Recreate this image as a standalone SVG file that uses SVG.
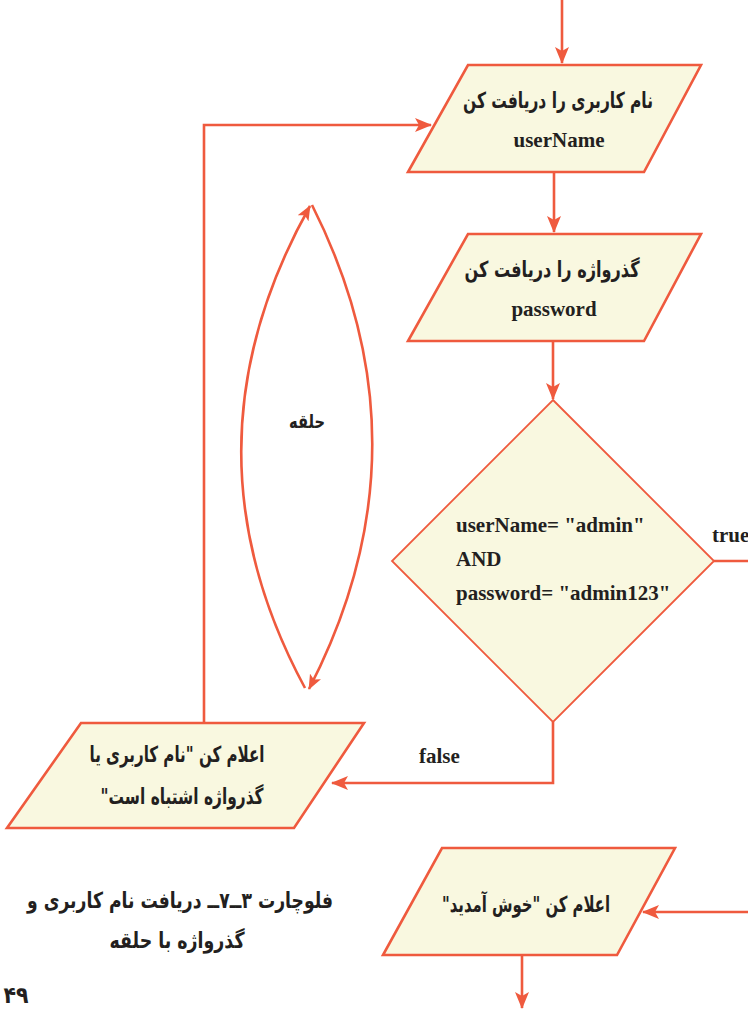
<svg xmlns="http://www.w3.org/2000/svg" width="748" height="1010" viewBox="0 0 748 1010">
<defs>
<marker id="ah" viewBox="0 0 17 14" refX="16" refY="7" markerWidth="17" markerHeight="14" markerUnits="userSpaceOnUse" orient="auto">
<path d="M0,0 L17,7 L0,14 L4,7 z" fill="#ef5a3e"/>
</marker>
<marker id="ahs" viewBox="0 0 17 14" refX="16" refY="7" markerWidth="15" markerHeight="13" markerUnits="userSpaceOnUse" orient="auto">
<path d="M0,0 L17,7 L0,14 L4,7 z" fill="#ef5a3e"/>
</marker>
</defs>
<style>
.box{fill:#f9f8e0;stroke:#ef5a3e;stroke-width:2.6;stroke-linejoin:miter}
.dia{fill:#f9f8e0;stroke:#ef5a3e;stroke-width:1.8}
.con{fill:none;stroke:#ef5a3e;stroke-width:2.6}
.en{font-family:"Liberation Serif",serif;font-weight:bold;font-size:21px;fill:#231f20}
.fa{font-family:"DejaVu Sans",sans-serif;font-weight:bold;font-size:22px;fill:#231f20;direction:rtl;text-anchor:middle}
</style>
<rect width="748" height="1010" fill="#ffffff"/>
<g id="connectors">
<path class="con" d="M562,0 V63" marker-end="url(#ah)"/>
<path class="con" d="M554,172 V232" marker-end="url(#ah)"/>
<path class="con" d="M553,341 V399" marker-end="url(#ah)"/>
<path class="con" d="M714,561 H748"/>
<path class="con" d="M553,722 V783 H332" marker-end="url(#ah)"/>
<path class="con" d="M204,723 V125 H431" marker-end="url(#ah)"/>
<path class="con" d="M748,912 H643" marker-end="url(#ah)"/>
<path class="con" d="M522,955 V1008" marker-end="url(#ah)"/>
<path class="con" d="M305,688 Q175,447 310,206" marker-end="url(#ahs)"/>
<path class="con" d="M312,205 Q434,447 309,689" marker-end="url(#ahs)"/>
</g>
<g id="labels">
<text class="en" x="712" y="542">true</text>
<text class="en" x="419" y="763">false</text>
<text class="fa" x="307" y="428" style="font-size:19px" textLength="36" lengthAdjust="spacingAndGlyphs">حلقه</text>
</g>
<g id="get-username">
<polygon class="box" points="468,65 701,65 644,172 408,172"/>
<text class="fa" x="558" y="108" textLength="190" lengthAdjust="spacingAndGlyphs">نام کاربری را دریافت کن</text>
<text class="en" x="559" y="147" text-anchor="middle">userName</text>
</g>
<g id="get-password">
<polygon class="box" points="468,234 701,234 644,341 408,341"/>
<text class="fa" x="552" y="277" textLength="175" lengthAdjust="spacingAndGlyphs">گذرواژه را دریافت کن</text>
<text class="en" x="554" y="316" text-anchor="middle">password</text>
</g>
<g id="check">
<polygon class="dia" points="553,400 714,561 553,722 392,561"/>
<text class="en" x="456" y="532">userName= "admin"</text>
<text class="en" x="456" y="566">AND</text>
<text class="en" x="456" y="600">password= "admin123"</text>
</g>
<g id="error">
<polygon class="box" points="81,723 364,723 294,828 7,828"/>
<text class="fa" x="177" y="762" textLength="175" lengthAdjust="spacingAndGlyphs">اعلام کن "نام کاربری یا</text>
<text class="fa" x="182" y="804" textLength="163" lengthAdjust="spacingAndGlyphs">گذرواژه اشتباه است"</text>
</g>
<g id="welcome">
<polygon class="box" points="442,848 675,848 617,955 383,955"/>
<text class="fa" x="526" y="912" textLength="168" lengthAdjust="spacingAndGlyphs">اعلام کن "خوش آمدید"</text>
</g>
<g id="caption">
<text class="fa" x="180" y="908" textLength="306" lengthAdjust="spacingAndGlyphs">فلوچارت ۳ــ۷ــ دریافت نام کاربری و</text>
<text class="fa" x="177" y="948" textLength="135" lengthAdjust="spacingAndGlyphs">گذرواژه با حلقه</text>
<text class="fa" x="16" y="1003" style="font-size:23px" textLength="25" lengthAdjust="spacingAndGlyphs">۴۹</text>
</g>
</svg>
